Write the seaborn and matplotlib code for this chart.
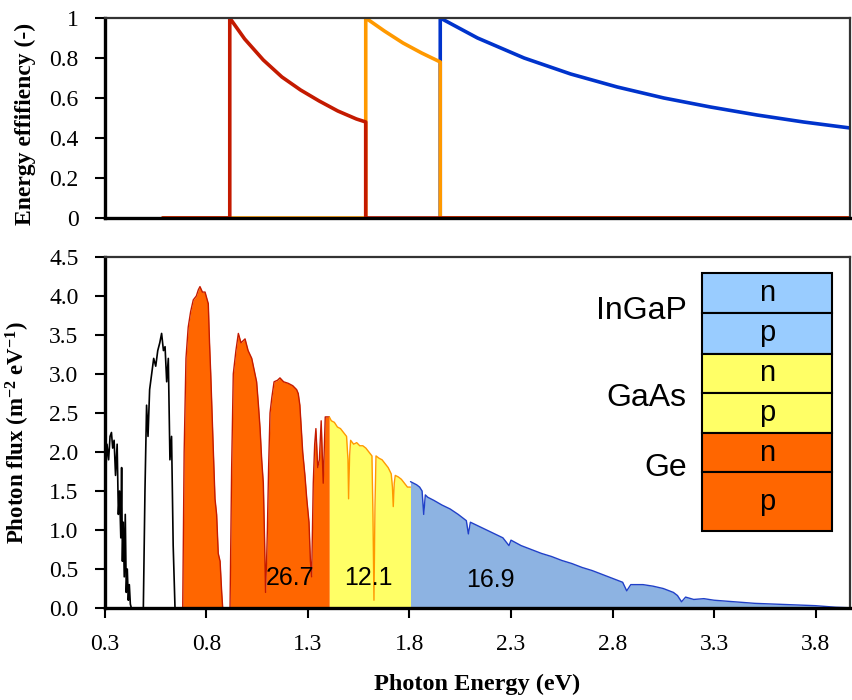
import matplotlib
matplotlib.use("Agg")
import matplotlib.pyplot as plt
from matplotlib.patches import Rectangle
import seaborn as sns

# ─────────────────────────────────────────────
# DATA
# ─────────────────────────────────────────────
# top panel: energy efficiency of each sub-cell
GE_E = [0.31, 0.67, 0.67, 0.75, 0.85, 0.95, 1.05, 1.15, 1.25, 1.35, 1.40, 1.40, 4.00]
GE_EFF = [0.0, 0.0, 1.0, 0.895, 0.79, 0.705, 0.64, 0.585, 0.535, 0.495, 0.48, 0.0, 0.0]
GAAS_E = [0.31, 1.40, 1.40, 1.50, 1.60, 1.70, 1.80, 1.80, 4.00]
GAAS_EFF = [0.0, 0.0, 1.0, 0.935, 0.875, 0.825, 0.78, 0.0, 0.0]
INGAP_E = [1.80, 1.80, 2.00, 2.25, 2.50, 2.75, 3.00, 3.25, 3.50, 3.75, 4.00]
INGAP_EFF = [0.0, 1.0, 0.90, 0.80, 0.72, 0.655, 0.60, 0.555, 0.515, 0.48, 0.45]

# bottom panel: photon flux, split by the band each part is absorbed in
LOST1_E = [0.300, 0.305, 0.310, 0.318, 0.325, 0.332, 0.338, 0.345, 0.352, 0.360,
           0.366, 0.372, 0.378, 0.382, 0.386, 0.390, 0.395, 0.400, 0.405, 0.410,
           0.415, 0.420, 0.425, 0.430]
LOST1_F = [1.95, 1.80, 2.10, 1.90, 2.20, 2.25, 2.05, 2.15, 1.70, 2.10,
           1.20, 1.50, 0.90, 1.80, 0.60, 1.10, 0.40, 1.20, 0.20, 0.50,
           0.10, 0.30, 0.05, 0.00]
LOST2_E = [0.489, 0.497, 0.505, 0.512, 0.520, 0.530, 0.540, 0.550, 0.560, 0.570,
           0.579, 0.588, 0.596, 0.604, 0.612, 0.620, 0.628, 0.636, 0.645]
LOST2_F = [0.00, 1.50, 2.60, 2.20, 2.80, 3.00, 3.20, 3.10, 3.30, 3.40,
           3.52, 3.30, 3.35, 2.90, 3.20, 1.90, 2.20, 0.80, 0.00]
GE1_E = [0.683, 0.690, 0.699, 0.710, 0.722, 0.735, 0.750, 0.760, 0.768, 0.780,
         0.793, 0.809, 0.815, 0.821, 0.834, 0.842, 0.850, 0.858, 0.867, 0.875, 0.880]
GE1_F = [0.00, 2.00, 3.20, 3.60, 3.80, 3.95, 4.00, 4.08, 4.12, 4.05,
         4.05, 3.90, 3.40, 3.00, 2.00, 1.40, 1.20, 0.70, 0.60, 0.20, 0.00]
GE2_E = [0.916, 0.924, 0.932, 0.945, 0.957, 0.970, 0.990, 1.005, 1.023, 1.035,
         1.047, 1.056, 1.064, 1.072, 1.080, 1.086, 1.091, 1.096, 1.100, 1.106,
         1.113, 1.122, 1.133, 1.150, 1.162, 1.180, 1.203, 1.225, 1.244, 1.252,
         1.260, 1.267, 1.274, 1.285, 1.294, 1.305, 1.312, 1.318, 1.326, 1.333,
         1.339, 1.348, 1.356, 1.365, 1.375, 1.385, 1.392, 1.405]
GE2_F = [0.00, 1.80, 3.00, 3.30, 3.52, 3.40, 3.45, 3.30, 3.20, 3.05,
         2.90, 2.60, 2.30, 1.90, 1.60, 0.90, 0.20, 0.60, 1.00, 1.80,
         2.50, 2.70, 2.90, 2.92, 2.95, 2.90, 2.88, 2.85, 2.80, 2.75,
         2.60, 2.30, 2.00, 1.70, 1.40, 1.10, 0.60, 0.40, 1.60, 2.10,
         2.30, 1.80, 1.90, 2.40, 1.60, 2.45, 2.45, 2.45]
GAAS_SP_E = [1.405, 1.415, 1.430, 1.445, 1.460, 1.475, 1.490, 1.497, 1.500, 1.505,
             1.510, 1.525, 1.540, 1.555, 1.570, 1.585, 1.600, 1.615, 1.620, 1.625,
             1.630, 1.635, 1.650, 1.665, 1.680, 1.695, 1.710, 1.716, 1.720, 1.725,
             1.730, 1.745, 1.760, 1.775, 1.790, 1.805]
GAAS_SP_F = [2.45, 2.40, 2.38, 2.32, 2.30, 2.25, 2.20, 1.90, 1.40, 1.95,
             2.15, 2.10, 2.12, 2.08, 2.08, 2.05, 2.00, 1.95, 1.20, 0.10,
             1.30, 1.95, 1.92, 1.90, 1.85, 1.80, 1.72, 1.55, 1.30, 1.60,
             1.70, 1.68, 1.65, 1.60, 1.55, 1.55]
INGAP_SP_E = [1.805, 1.820, 1.835, 1.850, 1.862, 1.870, 1.878, 1.890, 1.920, 1.960,
              2.000, 2.040, 2.080, 2.090, 2.100, 2.140, 2.180, 2.220, 2.260, 2.290,
              2.300, 2.350, 2.400, 2.450, 2.500, 2.550, 2.600, 2.650, 2.700, 2.750,
              2.800, 2.850, 2.870, 2.890, 2.950, 3.000, 3.050, 3.100, 3.120, 3.140,
              3.160, 3.200, 3.250, 3.300, 3.400, 3.500, 3.600, 3.700, 3.800, 3.900,
              4.000]
INGAP_SP_F = [1.62, 1.60, 1.58, 1.55, 1.50, 1.20, 1.45, 1.42, 1.38, 1.32,
              1.27, 1.20, 1.12, 0.95, 1.10, 1.05, 1.00, 0.95, 0.90, 0.80,
              0.87, 0.80, 0.75, 0.70, 0.66, 0.61, 0.57, 0.52, 0.48, 0.43,
              0.38, 0.33, 0.22, 0.30, 0.30, 0.28, 0.25, 0.20, 0.16, 0.08,
              0.14, 0.11, 0.12, 0.10, 0.08, 0.06, 0.05, 0.04, 0.03, 0.01,
              0.00]

BAND_LABELS = ["26.7", "12.1", "16.9"]
BAND_LABEL_E = [1.21, 1.596, 2.197]
BAND_LABEL_F = [0.39, 0.39, 0.36]

LAYER_TEXT = ["n", "p", "n", "p", "n", "p"]
LAYER_COLORS = ["#99CCFF", "#99CCFF", "#FFFF66", "#FFFF66", "#FF6600", "#FF6600"]
# row edges of the cell stack, in axes fraction (top to bottom)
LAYER_EDGES = [0.954, 0.840, 0.724, 0.613, 0.499, 0.387, 0.219]
CELL_NAMES = ["InGaP", "GaAs", "Ge"]
CELL_NAME_Y = [0.846, 0.598, 0.399]

E_TICKS = [0.3, 0.8, 1.3, 1.8, 2.3, 2.8, 3.3, 3.8]
F_TICKS = [0.0, 0.5, 1.0, 1.5, 2.0, 2.5, 3.0, 3.5, 4.0, 4.5]
EFF_TICKS = [0, 0.2, 0.4, 0.6, 0.8, 1]

RED = "#C41A00"
ORANGE = "#FF9900"
BLUE = "#0033CC"

# ─────────────────────────────────────────────
# STYLE
# ─────────────────────────────────────────────
sns.set_theme(style="ticks")
plt.rcParams["font.family"] = ["Liberation Serif", "DejaVu Serif"]
plt.rcParams["mathtext.fontset"] = "custom"
plt.rcParams["mathtext.rm"] = "Liberation Serif:bold"
plt.rcParams["mathtext.default"] = "rm"
for key in ("text.color", "axes.labelcolor", "xtick.color", "ytick.color"):
    plt.rcParams[key] = "black"
SANS = ["Liberation Sans", "DejaVu Sans"]

fig = plt.figure(figsize=(8.52, 7.0), dpi=100)
ax_top = fig.add_axes([0.1232, 0.6886, 0.8745, 0.2857])
ax_bot = fig.add_axes([0.1232, 0.1314, 0.8745, 0.5015])

# ═════════════════════════════════════════════
# TOP — energy efficiency
# ═════════════════════════════════════════════
for xs, ys, col in [(INGAP_E, INGAP_EFF, BLUE), (GAAS_E, GAAS_EFF, ORANGE),
                    (GE_E, GE_EFF, RED)]:
    sns.lineplot(x=xs, y=ys, ax=ax_top, color=col, lw=2.6, sort=False,
                 estimator=None)

ax_top.set_xlim(0, 4.0)
ax_top.set_ylim(0, 1)
ax_top.set_xticks([])
ax_top.set_yticks(EFF_TICKS)
ax_top.set_yticklabels([f"{t:g}" for t in EFF_TICKS])
ax_top.set_ylabel("Energy effifiency (-)", fontsize=17, fontweight="bold")
ax_top.yaxis.set_label_coords(-0.092, 0.47)

# ═════════════════════════════════════════════
# BOTTOM — photon flux spectrum
# ═════════════════════════════════════════════
sns.lineplot(x=[0.3, 4.0], y=[0, 0], ax=ax_bot, color=RED, lw=2, sort=False,
             estimator=None)
for xs, ys in [(LOST1_E, LOST1_F), (LOST2_E, LOST2_F)]:
    sns.lineplot(x=xs, y=ys, ax=ax_bot, color="black", lw=1.2, sort=False,
                 estimator=None)

for xs, ys in [(GE1_E, GE1_F), (GE2_E, GE2_F)]:
    ax_bot.fill_between(xs, 0, ys, color="#FF6600", lw=0)
    sns.lineplot(x=xs, y=ys, ax=ax_bot, color=RED, lw=1.0, sort=False,
                 estimator=None)
ax_bot.fill_between(GAAS_SP_E, 0, GAAS_SP_F, color="#FFFF66", lw=0)
sns.lineplot(x=GAAS_SP_E, y=GAAS_SP_F, ax=ax_bot, color=ORANGE, lw=1.0,
             sort=False, estimator=None)
ax_bot.fill_between(INGAP_SP_E, 0, INGAP_SP_F, color="#8DB3E2", lw=0)
sns.lineplot(x=INGAP_SP_E, y=INGAP_SP_F, ax=ax_bot, color="#2040C8", lw=1.0,
             sort=False, estimator=None)

for lab, x, y in zip(BAND_LABELS, BAND_LABEL_E, BAND_LABEL_F):
    ax_bot.text(x, y, lab, ha="center", va="center", fontsize=18,
                family=SANS, color="black")

# cell stack sketch
box_l, box_r = 0.801, 0.976
for i, (txt, col) in enumerate(zip(LAYER_TEXT, LAYER_COLORS)):
    top, bot = LAYER_EDGES[i], LAYER_EDGES[i + 1]
    ax_bot.add_patch(Rectangle((box_l, bot), box_r - box_l, top - bot,
                               transform=ax_bot.transAxes, facecolor=col,
                               edgecolor="black", lw=1.5, zorder=5))
    ax_bot.text((box_l + box_r) / 2, (top + bot) / 2, txt,
                transform=ax_bot.transAxes, ha="center", va="center",
                fontsize=21, family=SANS, zorder=6)
for name, y in zip(CELL_NAMES, CELL_NAME_Y):
    ax_bot.text(0.781, y, name, transform=ax_bot.transAxes, ha="right",
                va="center", fontsize=23, family=SANS)

ax_bot.set_xlim(0.3, 3.97)
ax_bot.set_ylim(0, 4.5)
ax_bot.set_xticks(E_TICKS)
ax_bot.set_xticklabels([f"{t:.1f}" for t in E_TICKS])
ax_bot.set_yticks(F_TICKS)
ax_bot.set_yticklabels([f"{t:.1f}" for t in F_TICKS])
ax_bot.set_ylabel("Photon flux (m$^{-2}$ eV$^{-1}$)", fontsize=16.5,
                  fontweight="bold")
ax_bot.yaxis.set_label_coords(-0.098, 0.5)
ax_bot.set_xlabel("Photon Energy (eV)", fontsize=17.5, fontweight="bold",
                  labelpad=13)

for ax in (ax_top, ax_bot):
    ax.tick_params(axis="both", labelsize=17, length=7, width=1.5,
                   direction="out", color="black", pad=12)
    for side in ("left", "bottom"):
        ax.spines[side].set_linewidth(2.4)
        ax.spines[side].set_color("black")
    for side in ("top", "right"):
        ax.spines[side].set_visible(True)
        ax.spines[side].set_linewidth(1.6)
        ax.spines[side].set_color("#333333")

fig.savefig("out.png", dpi=100)
